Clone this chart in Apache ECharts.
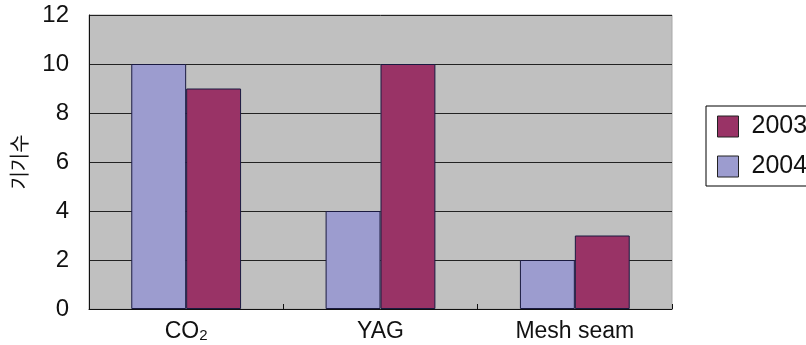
<!DOCTYPE html>
<html>
<head>
<meta charset="utf-8">
<script src="https://cdn.jsdelivr.net/npm/echarts@6/dist/echarts.min.js"></script>
<style>
  html, body { margin: 0; padding: 0; background: #ffffff; }
  #chart { width: 806px; height: 345px; }
</style>
</head>
<body>
<div id="chart"></div>
<script>
// Laser types and machine counts per year
const categories = ['CO2', 'YAG', 'Mesh seam'];
const categoryLabels = ['{m|CO}{s|2}', '{m|YAG}', '{m|Mesh seam}'];
const values2004 = [10, 4, 2];
const values2003 = [9, 10, 3];
const yTicks = { min: 0, max: 12, interval: 2 };
const axisTitle = '기기수';

const FONT = '"Liberation Sans", Arial, Helvetica, sans-serif';

const chart = echarts.init(document.getElementById('chart'), null, { renderer: 'canvas' });

chart.setOption({
  animation: false,
  backgroundColor: '#ffffff',
  grid: {
    left: 89, right: 134, top: 15, bottom: 36,
    show: true,
    backgroundColor: '#c0c0c0',
    borderColor: '#a8a8a8',
    borderWidth: 1
  },
  legend: {
    orient: 'vertical',
    left: 706, top: 106,
    data: ['2003', '2004'],
    backgroundColor: '#ffffff',
    borderColor: '#000000',
    borderWidth: 1,
    borderRadius: 0,
    padding: [8, 60, 7, 11],
    itemWidth: 21,
    itemHeight: 21,
    itemGap: 15,
    icon: 'rect',
    itemStyle: { borderColor: '#222222', borderWidth: 1 },
    textStyle: { fontFamily: FONT, fontSize: 25, color: '#111111', padding: [0, 0, 0, 8] }
  },
  xAxis: {
    type: 'category',
    data: categories,
    axisLine: { show: true, lineStyle: { color: '#111111', width: 1 } },
    axisTick: { show: true, inside: true, length: 5, lineStyle: { color: '#111111' } },
    axisLabel: {
      margin: 11,
      formatter: (v, i) => categoryLabels[i],
      rich: {
        m: { fontFamily: FONT, fontSize: 23, color: '#111111' },
        s: { fontFamily: FONT, fontSize: 15, color: '#111111', verticalAlign: 'bottom', padding: [7, 0, 0, 0] }
      }
    },
    splitLine: { show: false }
  },
  yAxis: {
    type: 'value',
    min: yTicks.min, max: yTicks.max, interval: yTicks.interval,
    name: axisTitle,
    nameLocation: 'middle',
    nameGap: 60,
    nameRotate: 90,
    nameTextStyle: { fontFamily: '"Noto Sans CJK KR", sans-serif', fontSize: 20, color: '#111111' },
    axisLine: { show: true, lineStyle: { color: '#111111', width: 1 } },
    axisTick: { show: false },
    axisLabel: { margin: 20, fontFamily: FONT, fontSize: 24, color: '#111111' },
    splitLine: { show: true, lineStyle: { color: '#222222', width: 1 } }
  },
  series: [
    {
      name: '2004', type: 'bar', data: values2004,
      barGap: '0%', barCategoryGap: '43.5%',
      itemStyle: { color: '#9c9ccf', borderColor: '#1a1a40', borderWidth: 1 }
    },
    {
      name: '2003', type: 'bar', data: values2003,
      barGap: '0%', barCategoryGap: '43.5%',
      itemStyle: { color: '#993366', borderColor: '#1a1a40', borderWidth: 1 }
    }
  ]
});
</script>
</body>
</html>
